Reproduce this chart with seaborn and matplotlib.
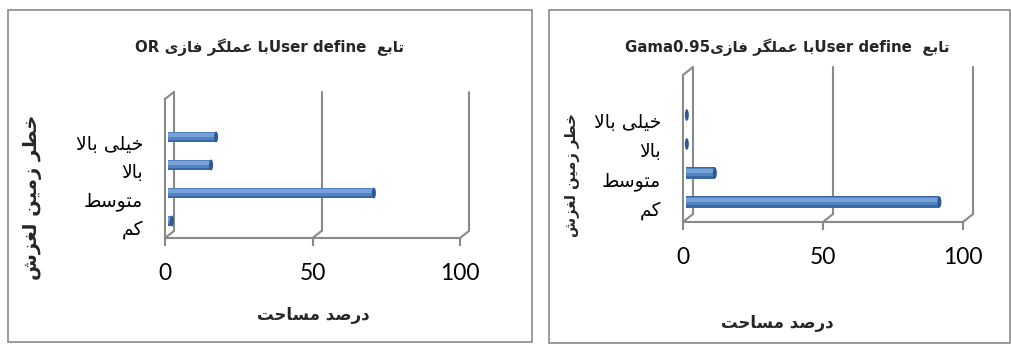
import re
import matplotlib
matplotlib.use("Agg")
import matplotlib.pyplot as plt
import matplotlib.transforms as mtransforms
from matplotlib.patches import Rectangle, Ellipse
import seaborn as sns
import pandas as pd

# ---------------- data ----------------
categories = ['خیلی بالا', 'بالا', 'متوسط', 'کم']
values_or = [16.3, 14.6, 69.8, 1.3]
values_gama = [0.3, 0.3, 10.3, 90.5]
x_ticks = [0, 50, 100]
title_or = 'تابع  User defineبا عملگر فازی OR'
title_gama = 'تابع  User defineبا عملگر فازیGama0.95'
xlabel_txt = 'درصد مساحت'
ylabel_txt = 'خطر زمین لغزش'

# ---------------- minimal Arabic/Persian shaping + bidi ----------------
F = {
    'ا': ('\uFE8D', '\uFE8E', None, None),
    'آ': ('\uFE81', '\uFE82', None, None),
    'ب': ('\uFE8F', '\uFE90', '\uFE91', '\uFE92'),
    'پ': ('\uFB56', '\uFB57', '\uFB58', '\uFB59'),
    'ت': ('\uFE95', '\uFE96', '\uFE97', '\uFE98'),
    'ث': ('\uFE99', '\uFE9A', '\uFE9B', '\uFE9C'),
    'ج': ('\uFE9D', '\uFE9E', '\uFE9F', '\uFEA0'),
    'چ': ('\uFB7A', '\uFB7B', '\uFB7C', '\uFB7D'),
    'ح': ('\uFEA1', '\uFEA2', '\uFEA3', '\uFEA4'),
    'خ': ('\uFEA5', '\uFEA6', '\uFEA7', '\uFEA8'),
    'د': ('\uFEA9', '\uFEAA', None, None),
    'ذ': ('\uFEAB', '\uFEAC', None, None),
    'ر': ('\uFEAD', '\uFEAE', None, None),
    'ز': ('\uFEAF', '\uFEB0', None, None),
    'ژ': ('\uFB8A', '\uFB8B', None, None),
    'س': ('\uFEB1', '\uFEB2', '\uFEB3', '\uFEB4'),
    'ش': ('\uFEB5', '\uFEB6', '\uFEB7', '\uFEB8'),
    'ص': ('\uFEB9', '\uFEBA', '\uFEBB', '\uFEBC'),
    'ض': ('\uFEBD', '\uFEBE', '\uFEBF', '\uFEC0'),
    'ط': ('\uFEC1', '\uFEC2', '\uFEC3', '\uFEC4'),
    'ظ': ('\uFEC5', '\uFEC6', '\uFEC7', '\uFEC8'),
    'ع': ('\uFEC9', '\uFECA', '\uFECB', '\uFECC'),
    'غ': ('\uFECD', '\uFECE', '\uFECF', '\uFED0'),
    'ف': ('\uFED1', '\uFED2', '\uFED3', '\uFED4'),
    'ق': ('\uFED5', '\uFED6', '\uFED7', '\uFED8'),
    'ک': ('\uFB8E', '\uFB8F', '\uFB90', '\uFB91'),
    'گ': ('\uFB92', '\uFB93', '\uFB94', '\uFB95'),
    'ل': ('\uFEDD', '\uFEDE', '\uFEDF', '\uFEE0'),
    'م': ('\uFEE1', '\uFEE2', '\uFEE3', '\uFEE4'),
    'ن': ('\uFEE5', '\uFEE6', '\uFEE7', '\uFEE8'),
    'ه': ('\uFEE9', '\uFEEA', '\uFEEB', '\uFEEC'),
    'و': ('\uFEED', '\uFEEE', None, None),
    'ی': ('\uFBFC', '\uFBFD', '\uFBFE', '\uFBFF'),
}


def _dual(c):
    return c in F and F[c][2] is not None


def shape(s):
    out, i, n = [], 0, len(s)
    while i < n:
        c = s[i]
        if c not in F:
            out.append(c)
            i += 1
            continue
        pj = i > 0 and _dual(s[i - 1])
        if c == 'ل' and i + 1 < n and s[i + 1] == 'ا':
            out.append('\uFEFC' if pj else '\uFEFB')
            i += 2
            continue
        nj = _dual(c) and i + 1 < n and s[i + 1] in F
        iso, fin, ini, med = F[c]
        out.append(med if (pj and nj) else fin if pj else ini if nj else iso)
        i += 1
    return ''.join(out)


def rtl(s):
    s = shape(s)
    parts = re.findall(r'[A-Za-z0-9.]+(?:\s+[A-Za-z0-9.]+)*|[^A-Za-z0-9.]+', s)
    res = []
    for p in reversed(parts):
        res.append(p if re.match(r'[A-Za-z0-9.]', p) else p[::-1])
    return ''.join(res)


# ---------------- style ----------------
sns.set_theme(style='white')
plt.rcParams['font.family'] = ['DejaVu Sans']
GRAY = '#898989'
LW = 1.5

W, H = 1011, 344
fig = plt.figure(figsize=(W / 100, H / 100), dpi=100)


def px_box(x0, y0, x1, y1):
    return [x0 / W, 1 - y1 / H, (x1 - x0) / W, (y1 - y0) / H]


# outer frames
for (x0, y0, x1, y1) in [(8, 10, 532, 342), (549, 10, 1010, 343)]:
    fig.add_artist(Rectangle((x0 / W, 1 - y1 / H), (x1 - x0) / W, (y1 - y0) / H,
                             transform=fig.transFigure, fill=False,
                             edgecolor='#8a8a8a', lw=1.2))


def draw_panel(rect, ylim, values, back_off, bar_off, tick_pad, label_pad):
    ax = fig.add_axes(rect)
    df = pd.DataFrame({'cat': categories, 'val': values})
    sc = fig.dpi_scale_trans

    def shifted(dx, dy):
        return ax.transData + mtransforms.ScaledTranslation(dx / 100, dy / 100, sc)

    bar_tr = shifted(*bar_off)
    back_tr = shifted(*back_off)

    # cylinder-like bars: dark body, mid body, highlight
    layers = [('#3a68a4', 0.39, 0), ('#4f83c3', 0.29, 0.8), ('#78a1d8', 0.11, 2.0)]
    base = None
    for k, (col, wd, dy) in enumerate(layers):
        n0 = len(ax.patches)
        sns.barplot(data=df, x='val', y='cat', orient='h', ax=ax, color=col,
                    width=wd, saturation=1, zorder=3 + k)
        ps = ax.patches[n0:]
        tr = shifted(bar_off[0], bar_off[1] + dy)
        for p in ps:
            p.set_transform(tr)
            p.set_linewidth(0)
        if base is None:
            base = ps
    xl = 100.0
    ax.set_xlim(0, xl)
    ax.set_ylim(*ylim)
    pxw = rect[2] * W
    cap_w = 4.0 * xl / pxw
    for p in base:
        xe = p.get_x() + p.get_width()
        yc = p.get_y() + p.get_height() / 2
        ax.add_patch(Ellipse((xe, yc), cap_w, p.get_height(), transform=bar_tr,
                             facecolor='#2f5a90', edgecolor='none', zorder=8, clip_on=False))

    y_top, y_bot = ylim[1], ylim[0]
    # side wall
    ax.plot([0, 0], [y_bot, y_top], color=GRAY, lw=LW, clip_on=False, zorder=2)
    ax.plot([0, 0], [y_bot, y_top], color=GRAY, lw=LW, clip_on=False, zorder=2, transform=back_tr)
    # back-wall gridlines
    for t in x_ticks:
        if t != 0:
            ax.plot([t, t], [y_bot, y_top], color=GRAY, lw=LW, clip_on=False, zorder=1, transform=back_tr)
    # connectors front <-> back (top of side wall and floor)
    for t in x_ticks:
        for yy in ([y_bot] if t != 0 else [y_bot, y_top]):
            a = ax.transData.transform((t, yy))
            b = back_tr.transform((t, yy))
            ax.plot([a[0], b[0]], [a[1], b[1]], color=GRAY, lw=LW, clip_on=False,
                    zorder=2, transform=None)

    # spines / ticks
    for s in ['top', 'right', 'left']:
        ax.spines[s].set_visible(False)
    ax.spines['bottom'].set_color(GRAY)
    ax.spines['bottom'].set_linewidth(LW)
    ax.set_xticks(x_ticks)
    ax.set_xticklabels([str(t) for t in x_ticks], fontsize=16.5, family='Lato')
    ax.tick_params(axis='x', bottom=True, length=6, width=LW, color=GRAY,
                   direction='out', pad=tick_pad, labelcolor='black')
    ax.set_yticks(range(len(categories)))
    ax.set_yticklabels([rtl(c) for c in categories], fontsize=13.5)
    ax.tick_params(axis='y', left=False, length=0, pad=label_pad, labelcolor='black')
    ax.set_xlabel('')
    ax.set_ylabel('')
    ax.patch.set_alpha(0)
    ax.grid(False)
    return ax


# left panel: front frame x 165..460, y 99..238
draw_panel(px_box(165, 99, 460, 238), (3.393, -1.571), values_or,
           back_off=(9, 7), bar_off=(3, 6), tick_pad=12, label_pad=16)
# right panel: front frame x 683..963, y 75..222
draw_panel(px_box(683, 75, 963, 222), (3.483, -1.586), values_gama,
           back_off=(10, 8), bar_off=(3, 6), tick_pad=12, label_pad=16)


def ftext(x, y, s, **kw):
    fig.text(x / W, 1 - y / H, s, ha='center', va='center', **kw)


ftext(270, 47, rtl(title_or), fontsize=10.8, fontweight='bold')
ftext(787, 47, rtl(title_gama), fontsize=10.8, fontweight='bold')
ftext(313, 315, rtl(xlabel_txt), fontsize=12, fontweight='bold')
ftext(777, 323, rtl(xlabel_txt), fontsize=12, fontweight='bold')
ftext(33, 197, rtl(ylabel_txt), fontsize=14, fontweight='bold', rotation=90)
ftext(573, 175, rtl(ylabel_txt), fontsize=10.5, fontweight='bold', rotation=90)

fig.savefig('out.png', dpi=100)
